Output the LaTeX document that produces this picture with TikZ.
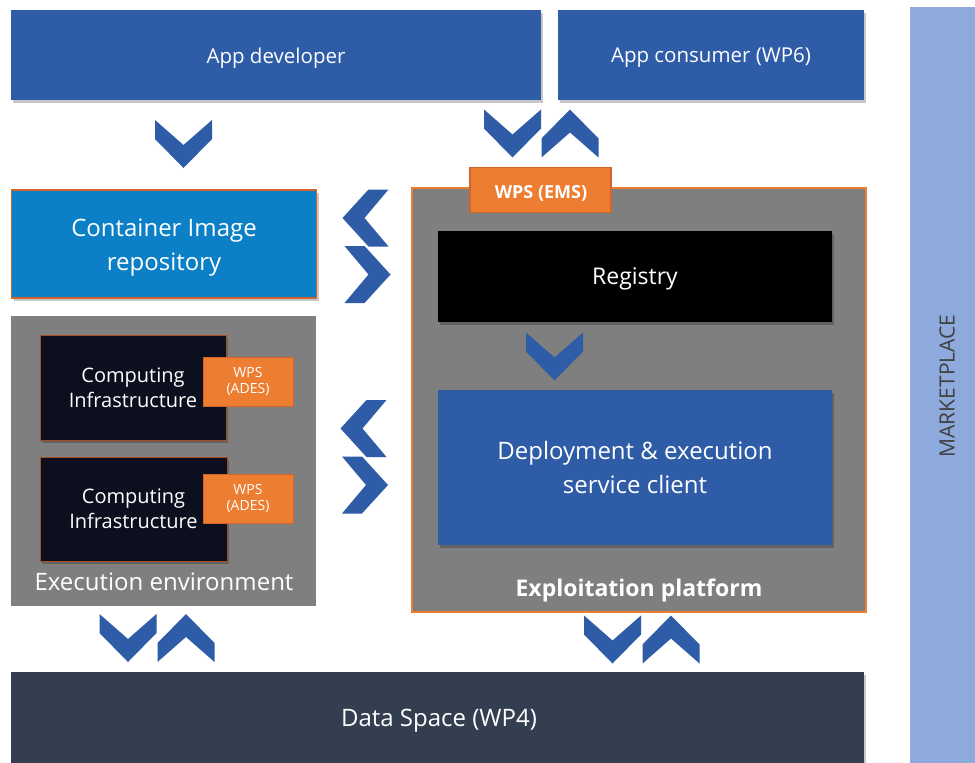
\documentclass[tikz,border=0pt]{standalone}
\usepackage{fontspec}
\setmainfont{Open Sans}
\usetikzlibrary{shadows}
\definecolor{pblue}{HTML}{2E5CA6}
\definecolor{cblue}{HTML}{0C80C6}
\definecolor{pgrey}{HTML}{7F7F7F}
\definecolor{porange}{HTML}{ED7D31}
\definecolor{dorange}{HTML}{D0642A}
\definecolor{navy}{HTML}{0B0F1E}
\definecolor{slate}{HTML}{333F50}
\definecolor{mkt}{HTML}{8EA9DB}
\definecolor{mtext}{HTML}{3F3F3F}
\tikzset{
  box/.style={inner sep=0pt, outer sep=0pt, text=white, align=center},
  lbl/.style={inner sep=0pt, outer sep=0pt, text=white, align=center},
  shad/.style={drop shadow={shadow xshift=2pt, shadow yshift=-3pt, opacity=0.22, fill=black}},
  chevfill/.style={fill=pblue, draw=none},
  pics/chevD/.style={code={\fill[chevfill] (-28.5,-24) -- (0,1) -- (28.5,-24) -- (28.5,-5) -- (0,24) -- (-28.5,-5) -- cycle;}},
  pics/chevU/.style={code={\fill[chevfill] (-28.5,24) -- (0,-1) -- (28.5,24) -- (28.5,5) -- (0,-24) -- (-28.5,5) -- cycle;}},
  pics/chevR/.style={code={\fill[chevfill] (-23,-28.5) -- (-3,-28.5) -- (23,0) -- (-3,28.5) -- (-23,28.5) -- (1,0) -- cycle;}},
  pics/chevL/.style={code={\fill[chevfill] (23,-28.5) -- (3,-28.5) -- (-23,0) -- (3,28.5) -- (23,28.5) -- (-1,0) -- cycle;}},
}
\begin{document}
\begin{tikzpicture}[x=1pt,y=-1pt]
\useasboundingbox[fill=white] (0,0) rectangle (975,763);

% Marketplace
\node[box, fill=mkt, minimum width=65pt, minimum height=756pt, anchor=north west] (mkt) at (910,7) {};
\node[text=mtext, rotate=90, inner sep=0pt, font=\fontsize{21}{24}\selectfont] (mktlabel) at (947,386) {MARKETPLACE};

% Top actors
\node[box, shad, fill=pblue, minimum width=530pt, minimum height=90pt] (appdev) at (276,55) {};
\node[lbl, font=\fontsize{20.5}{24}\selectfont] (appdevlabel) at (276,58) {App developer};
\node[box, shad, fill=pblue, minimum width=306pt, minimum height=90pt] (appcons) at (711,55) {};
\node[lbl, font=\fontsize{20.5}{24}\selectfont] (appconslabel) at (711,58) {App consumer (WP6)};

% Container image repository
\node[box, shad, fill=cblue, draw=dorange, line width=1.2pt, minimum width=305pt, minimum height=108pt, text depth=0pt, font=\fontsize{24}{34}\selectfont] (repo) at (164,244) {};
\node[lbl, font=\fontsize{24}{34}\selectfont] (repolabel) at (164,248) {Container Image\\repository};

% Execution environment
\node[box, fill=pgrey, minimum width=305pt, minimum height=290pt] (execenv) at (163.5,461) {};
\node[lbl, font=\fontsize{24}{28}\selectfont] (execlabel) at (164,582) {Execution environment};
\node[box, shad, fill=navy, draw=dorange!80!black, line width=1pt, minimum width=186pt, minimum height=105pt, font=\fontsize{20}{25}\selectfont] (ci1) at (133,387.5) {Computing\\Infrastructure};
\node[box, shad, fill=navy, draw=dorange!80!black, line width=1pt, minimum width=187pt, minimum height=104pt, font=\fontsize{20}{25}\selectfont] (ci2) at (133.5,509) {Computing\\Infrastructure};
\node[box, fill=porange, draw=dorange, line width=1pt, minimum width=90pt, minimum height=49pt, font=\fontsize{14}{16}\selectfont] (ades1) at (248,381.5) {WPS\\(ADES)};
\node[box, fill=porange, draw=dorange, line width=1pt, minimum width=90pt, minimum height=49pt, font=\fontsize{14}{16}\selectfont] (ades2) at (248,498.5) {WPS\\(ADES)};

% Exploitation platform
\node[box, fill=pgrey, draw=porange, line width=2pt, minimum width=454pt, minimum height=424pt] (ep) at (639,400) {};
\node[lbl, font=\bfseries\fontsize{23}{27}\selectfont] (eplabel) at (639,590) {Exploitation platform};
\node[box, fill=porange, draw=dorange, line width=1.2pt, minimum width=141pt, minimum height=45pt] (ems) at (540.5,190) {};
\node[lbl, font=\bfseries\fontsize{18}{21}\selectfont] (emslabel) at (541,193) {WPS (EMS)};
\node[box, shad, fill=black, minimum width=394pt, minimum height=91pt] (registry) at (635,276) {};
\node[lbl, font=\fontsize{23}{27}\selectfont] (reglabel) at (635,279) {Registry};
\node[box, shad, fill=pblue, minimum width=394pt, minimum height=155pt, font=\fontsize{24}{34}\selectfont] (deploy) at (635,467) {Deployment \& execution\\service client};

% Data space
\node[box, shad, fill=slate, minimum width=853pt, minimum height=95pt, anchor=north west] (data) at (11,672) {};
\node[lbl, font=\fontsize{24}{28}\selectfont] (datalabel) at (439,721) {Data Space (WP4)};

% Chevrons
\pic at (183.5,144) {chevD};
\pic at (512.5,133.5) {chevD};
\pic at (570,133.5) {chevU};
\pic at (365.5,218) {chevL};
\pic at (367.5,274.5) {chevR};
\pic at (363.5,428.5) {chevL};
\pic at (365,485) {chevR};
\pic at (554.5,356.5) {chevD};
\pic at (128,638) {chevD};
\pic at (186,638) {chevU};
\pic at (612.5,639.5) {chevD};
\pic at (671,639.5) {chevU};
\end{tikzpicture}
\end{document}
